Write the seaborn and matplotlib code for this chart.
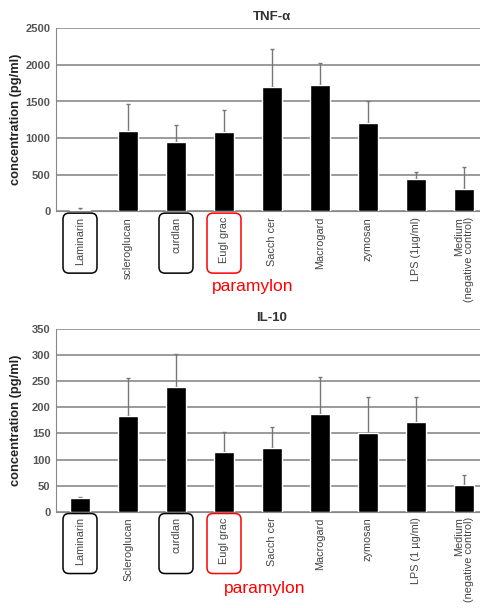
import numpy as np
import pandas as pd
import matplotlib
matplotlib.use("Agg")
import matplotlib.pyplot as plt
from matplotlib.patches import FancyBboxPatch
import seaborn as sns

# values
labels_tnf = ["Laminarin", "scleroglucan", "curdlan", "Eugl grac", "Sacch cer",
              "Macrogard", "zymosan", "LPS (1µg/ml)", "Medium\n(negative control)"]
labels_il10 = ["Laminarin", "Scleroglucan", "curdlan", "Eugl grac", "Sacch cer",
               "Macrogard", "zymosan", "LPS (1 µg/ml)", "Medium\n(negative control)"]
tnf_mean = [20, 1100, 950, 1090, 1700, 1730, 1200, 440, 310]
tnf_err = [30, 360, 230, 290, 520, 290, 300, 95, 290]
il10_mean = [27, 183, 238, 115, 122, 188, 151, 171, 51]
il10_err = [2, 74, 64, 37, 40, 71, 69, 49, 19]

sns.set_style("white")
plt.rcParams['font.family'] = ['Liberation Sans', 'DejaVu Sans']

fig = plt.figure(figsize=(4.81, 6.08), dpi=100)
W, H = 481, 608


def panel(top, bottom, labels, mean, err, ymax, step, title, boxed_pos, note_x, note_y):
    ax = fig.add_axes([56 / W, (H - bottom) / H, 432 / W, (bottom - top) / H])
    df = pd.DataFrame({"label": labels, "value": mean})
    sns.barplot(data=df, x="label", y="value", color="black", width=0.4,
                saturation=1, ax=ax, zorder=3)
    x = np.arange(len(labels))
    ax.errorbar(x, mean, yerr=[np.zeros(len(err)), err], fmt="none",
                ecolor="#777777", elinewidth=1, capsize=1.5, zorder=2)
    ax.set_ylim(0, ymax)
    ax.set_xlim(-0.5, len(labels) - 0.5)
    ax.set_yticks(np.arange(0, ymax + 1, step))
    ax.yaxis.grid(True, color="#808080", linewidth=1.1)
    ax.set_axisbelow(True)
    for s in ["top", "right"]:
        ax.spines[s].set_visible(False)
    for s in ["left", "bottom"]:
        ax.spines[s].set_color("#888888")
    ax.set_xticks(x)
    ax.set_xticklabels(labels, rotation=90, fontsize=7.8, color="#444444",
                       linespacing=0.95, va="top", ha="center",
                       multialignment="right")
    ax.tick_params(axis="x", length=0, pad=4)
    ax.set_xticks(np.arange(len(labels) + 1) - 0.5, minor=True)
    ax.tick_params(axis="x", which="minor", length=3, color="#888888")
    ax.tick_params(axis="y", labelsize=8, colors="#555555", length=3, pad=1)
    for t in ax.get_yticklabels():
        t.set_fontweight("bold")
    ax.set_xlabel("")
    ax.set_ylabel("concentration (pg/ml)", fontsize=9.3, fontweight="bold",
                  color="#222222")
    ax.yaxis.set_label_coords(-0.078, 0.5)
    ax.set_title(title, fontsize=9.5, fontweight="bold", color="#333333", pad=6)

    # rounded boxes around the highlighted labels, drawn in pixel units
    y_top = ax.transAxes.transform((0, -0.01))[1]
    for pos, col in boxed_pos:
        xc = ax.transData.transform((pos, 0))[0]
        box = FancyBboxPatch(((xc - 17) / 100, (y_top - 60) / 100), 0.34, 0.60,
                             boxstyle="round,pad=0,rounding_size=0.06",
                             transform=fig.dpi_scale_trans, fill=False,
                             edgecolor=col, linewidth=1.1, clip_on=False)
        fig.add_artist(box)
    fig.text(note_x / W, 1 - note_y / H, "paramylon", color="#ff0000",
             fontsize=12.5, ha="center", va="center")
    return ax


boxes = [(0, "black"), (2, "black"), (3, "#ff0000")]
panel(28.3, 211.3, labels_tnf, tnf_mean, tnf_err, 2500, 500, "TNF-α",
      boxes, 253, 286)
panel(329, 511.7, labels_il10, il10_mean, il10_err, 350, 50, "IL-10",
      boxes, 265, 588)

fig.savefig("out.png", dpi=100)
